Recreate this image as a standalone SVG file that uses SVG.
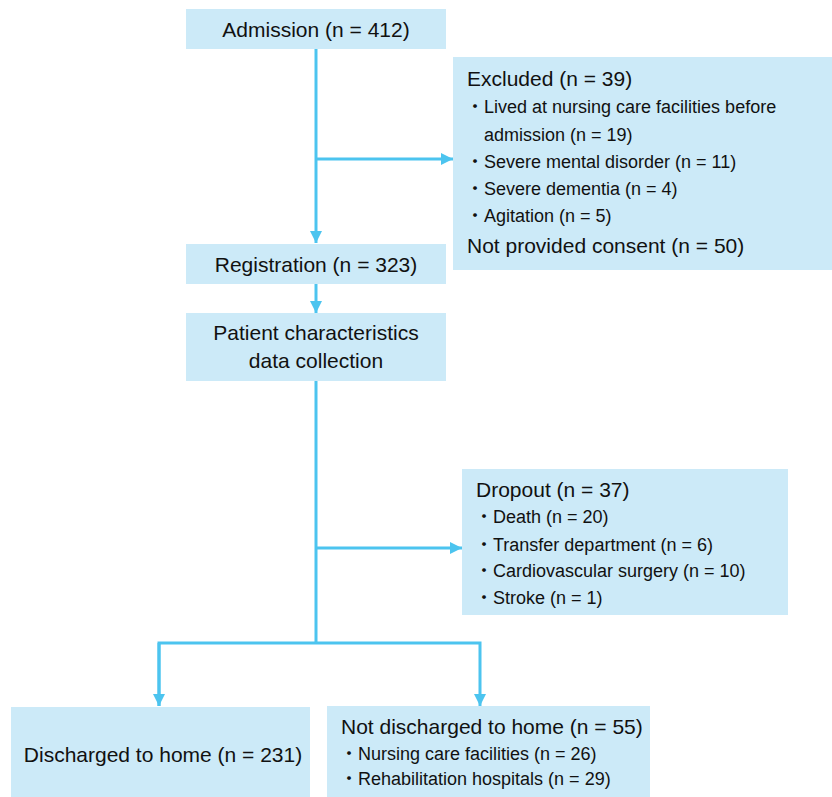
<svg xmlns="http://www.w3.org/2000/svg" width="832" height="797" viewBox="0 0 832 797">
<style>
.box{fill:#cceaf8;}
text{font-family:"Liberation Sans","Noto Sans CJK JP",sans-serif;fill:#111;}
.lg{font-size:21px;}
.sm{font-size:18px;}
.c{text-anchor:middle;}
.ln{stroke:#4cc4ef;stroke-width:3;fill:none;}
</style>
<defs>
<marker id="ah" viewBox="0 0 10 10" refX="10" refY="5" markerWidth="4" markerHeight="4" orient="auto" markerUnits="strokeWidth">
<path d="M0,0 L10,5 L0,10 z" fill="#4cc4ef"/>
</marker>
</defs>
<rect width="832" height="797" fill="#fff"/>
<g id="connectors">
<path class="ln" d="M316,49 V243" marker-end="url(#ah)"/>
<path class="ln" d="M316,159 H453" marker-end="url(#ah)"/>
<path class="ln" d="M316,284 V313" marker-end="url(#ah)"/>
<path class="ln" d="M316,381 V643"/>
<path class="ln" d="M316,548 H462" marker-end="url(#ah)"/>
<path class="ln" d="M159,706 V643 H480 V706" marker-end="url(#ah)"/>
<path class="ln" d="M159,643 V706" marker-end="url(#ah)"/>
</g>
<g id="admission">
<rect class="box" x="186" y="9" width="260" height="40"/>
<text class="lg c" x="316" y="37">Admission (n = 412)</text>
</g>
<g id="excluded">
<rect class="box" x="453" y="57" width="379" height="213"/>
<text class="lg" x="467" y="86">Excluded (n = 39)</text>
<text class="sm" x="466" y="113">・Lived at nursing care facilities before</text>
<text class="sm" x="484" y="141">admission (n = 19)</text>
<text class="sm" x="466" y="168">・Severe mental disorder (n = 11)</text>
<text class="sm" x="466" y="195">・Severe dementia (n = 4)</text>
<text class="sm" x="466" y="222">・Agitation (n = 5)</text>
<text class="lg" x="467" y="253">Not provided consent (n = 50)</text>
</g>
<g id="registration">
<rect class="box" x="186" y="244" width="260" height="40"/>
<text class="lg c" x="316" y="272">Registration (n = 323)</text>
</g>
<g id="patient">
<rect class="box" x="186" y="313" width="260" height="68"/>
<text class="lg c" x="316" y="340">Patient characteristics</text>
<text class="lg c" x="316" y="368">data collection</text>
</g>
<g id="dropout">
<rect class="box" x="462" y="469" width="326" height="146"/>
<text class="lg" x="476" y="497">Dropout (n = 37)</text>
<text class="sm" x="475" y="523">・Death (n = 20)</text>
<text class="sm" x="475" y="551">・Transfer department (n = 6)</text>
<text class="sm" x="475" y="577">・Cardiovascular surgery (n = 10)</text>
<text class="sm" x="475" y="604">・Stroke (n = 1)</text>
</g>
<g id="home">
<rect class="box" x="11" y="707" width="299" height="90"/>
<text class="lg c" x="163" y="762">Discharged to home (n = 231)</text>
</g>
<g id="nothome">
<rect class="box" x="327" y="706" width="323" height="91"/>
<text class="lg" x="341" y="734">Not discharged to home (n = 55)</text>
<text class="sm" x="340" y="760">・Nursing care facilities (n = 26)</text>
<text class="sm" x="340" y="785">・Rehabilitation hospitals (n = 29)</text>
</g>
</svg>
